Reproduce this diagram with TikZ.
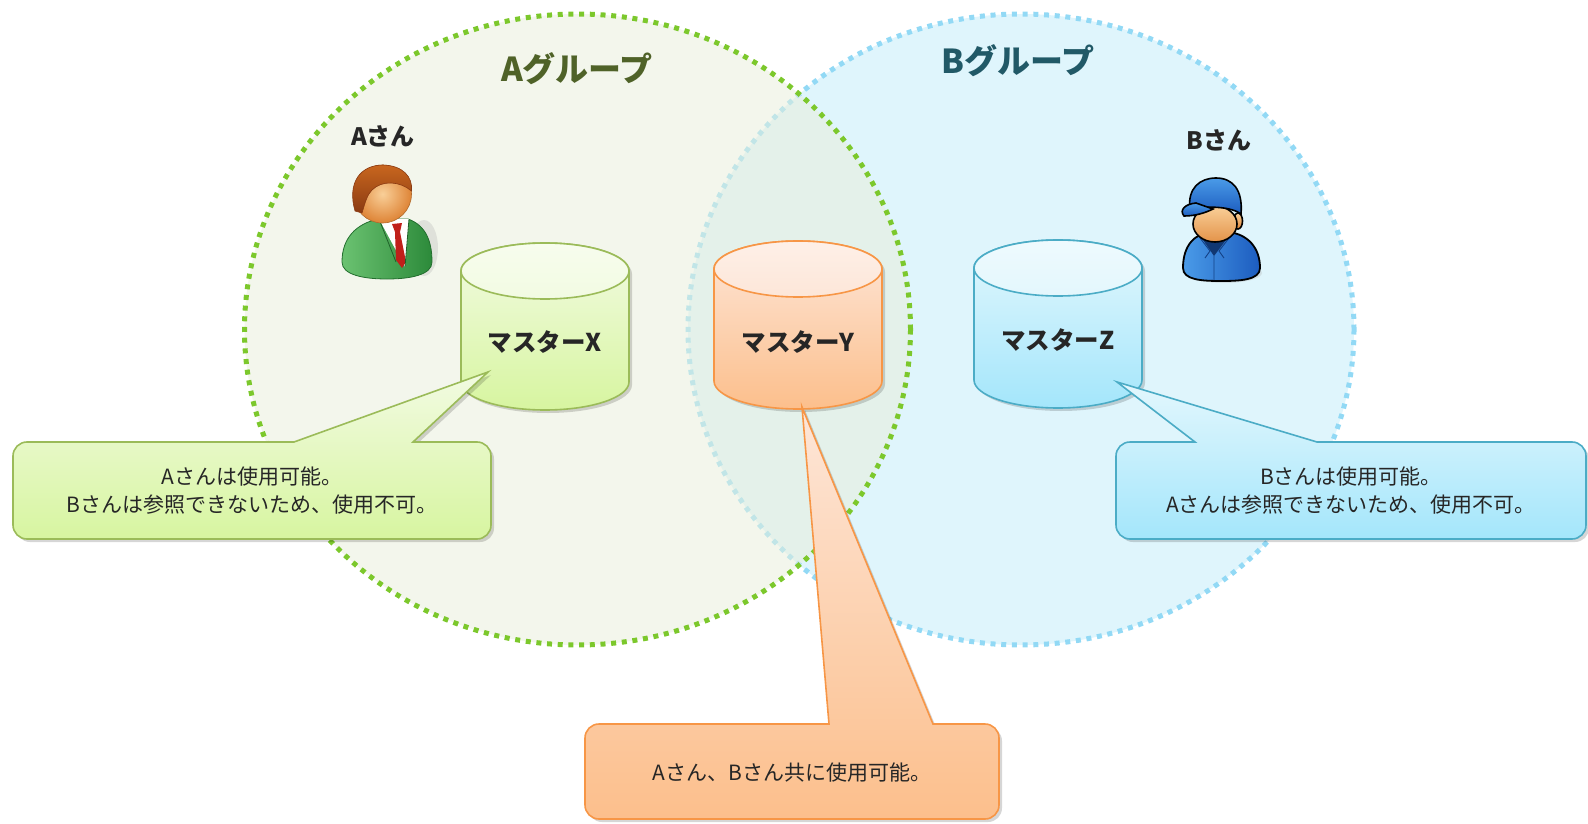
\documentclass[tikz,border=0pt]{standalone}
\usepackage{fontspec}
\setmainfont{Noto Sans CJK JP}
\usetikzlibrary{shadows}

\definecolor{txt}{HTML}{262626}
\definecolor{gfill}{RGB}{233,239,220}
\definecolor{gline}{HTML}{7CC82C}
\definecolor{bfill}{HTML}{DFF5FC}
\definecolor{bline}{HTML}{92D9F5}
\definecolor{gtitle}{HTML}{4F6228}
\definecolor{btitle}{HTML}{215967}
% database / callout colours
\definecolor{xline}{HTML}{9BBB59}
\definecolor{xtop}{HTML}{F2FBE2}
\definecolor{xbot}{HTML}{D7F5A0}
\definecolor{yline}{HTML}{F79646}
\definecolor{ytop}{HTML}{FDE6D8}
\definecolor{ybot}{HTML}{FCBF8C}
\definecolor{zline}{HTML}{4BACC6}
\definecolor{ztop}{HTML}{E3F7FD}
\definecolor{zbot}{HTML}{A4E6FB}
% figures
\definecolor{suitL}{HTML}{6BC271}
\definecolor{suitD}{HTML}{2C8A3A}
\definecolor{skinL}{HTML}{F9CF98}
\definecolor{skinD}{HTML}{DE8436}
\definecolor{hairL}{HTML}{C8661E}
\definecolor{hairD}{HTML}{8A3A12}
\definecolor{tie}{HTML}{C0201A}
\definecolor{uniL}{HTML}{4A9BE8}
\definecolor{uniD}{HTML}{1C5CBF}

\tikzset{
  grouparea/.style={line width=5pt, dash pattern=on 5pt off 5.7pt},
  grouptitle/.style={font=\bfseries\fontsize{33}{36}\selectfont},
  person/.style={font=\bfseries\fontsize{24}{28}\selectfont, text=txt},
  dblabel/.style={font=\bfseries\fontsize{24.5}{28}\selectfont, text=txt},
  note/.style={align=center, font=\fontsize{21}{28}\selectfont, text=txt},
  softshadow/.style={drop shadow={opacity=0.16, shadow xshift=3pt, shadow yshift=-3pt, fill=black}},
  callout/.style={line width=1.6pt, softshadow},
}

% database cylinder: #1 centre x, #2 top ellipse y, #3 bottom ellipse y,
% #4 line colour, #5 light colour, #6 dark colour
\newcommand\drawdb[6]{%
  \path[draw=#4, line width=1.6pt, top color=#5, bottom color=#6, softshadow]
    (#1-84,#2) -- (#1-84,#3)
    arc[start angle=180, end angle=0, x radius=84, y radius=28]
    -- (#1+84,#2)
    arc[start angle=0, end angle=-180, x radius=84, y radius=28] -- cycle;
  \path[draw=#4, line width=1.6pt, top color=#5!60!white, bottom color=#5]
    (#1,#2) ellipse[x radius=84, y radius=28];
}

\begin{document}
\begin{tikzpicture}[x=1pt,y=-1pt]
\path[use as bounding box] (0,0) rectangle (1588,824);

% group areas
\path[grouparea, fill=bfill, draw=bline] (1021,329.5) ellipse[x radius=333, y radius=315.5];
\path[grouparea, fill=gfill, fill opacity=0.55, draw=gline] (577.5,329.5) ellipse[x radius=333, y radius=315.5];

\node[grouptitle, text=gtitle] (titleA) at (577,69) {Aグループ};
\node[grouptitle, text=btitle] (titleB) at (1018,61) {Bグループ};

\node[person] (nameA) at (383,136) {Aさん};
\node[person] (nameB) at (1219,140) {Bさん};

% person A: businessman
\fill[black!30, opacity=0.3] (424,248) ellipse[x radius=14, y radius=28];
\path[draw=suitD!80!black, line width=0.8pt, left color=suitL, right color=suitD]
  (342,262) .. controls (342,238) and (356,224) .. (378,219) -- (408,219)
  .. controls (425,225) and (432,240) .. (432,262)
  .. controls (432,275) and (410,279) .. (387,279)
  .. controls (364,279) and (342,275) .. (342,262) -- cycle;
\fill[white] (379,219) -- (409,219) -- (405,267) -- cycle;
\fill[tie] (392,224) -- (402,223) -- (400,232) -- (406,262) -- (402,268) -- (396,260) -- (395,232) -- cycle;
\draw[suitD!70!black, line width=0.8pt] (379,219) -- (396,262) (409,219) -- (405,267);
\path[draw=skinD!80!black, line width=0.6pt, inner color=skinL, outer color=skinD]
  (382.5,194) circle[radius=29];
\path[draw=hairD, line width=0.6pt, top color=hairL, bottom color=hairD]
  (355,211) .. controls (347,183) and (360,165) .. (383,165)
  .. controls (403,165.5) and (413,177) .. (411.5,191)
  .. controls (400,181) and (382,180) .. (372,190)
  .. controls (367,195) and (365,203) .. (362,213) -- cycle;

% person B: worker in cap
\fill[black!30, opacity=0.3] (1224,273) ellipse[x radius=38, y radius=10];
\path[draw=black, line width=1.8pt, left color=uniL, right color=uniD]
  (1183,268) .. controls (1183,245) and (1195,233) .. (1212,232) -- (1228,232)
  .. controls (1248,234) and (1260,248) .. (1260,268)
  .. controls (1260,280) and (1240,281) .. (1221,281)
  .. controls (1202,281) and (1183,280) .. (1183,268) -- cycle;
\fill[uniD!60!black] (1203,240) -- (1226,240) -- (1214,256) -- cycle;
\draw[uniD!70!black, line width=0.9pt] (1200,238) -- (1210,251) -- (1205,258) (1229,238) -- (1219,251) -- (1224,258) (1214,256) -- (1214,280);
\path[draw=black, line width=1.6pt, top color=skinL, bottom color=skinD]
  (1238,221) ellipse[x radius=4.5, y radius=8];
\path[draw=black, line width=1.6pt, top color=skinL, bottom color=skinD!80!skinL]
  (1215,224) ellipse[x radius=22, y radius=18];
\path[draw=black, line width=1.6pt, top color=uniL, bottom color=uniD]
  (1190,210) .. controls (1187,188) and (1200,178) .. (1216,178)
  .. controls (1233,178) and (1243,190) .. (1241,214)
  .. controls (1232,207) and (1208,205) .. (1190,210) -- cycle;
\path[draw=black, line width=1.6pt, top color=uniL, bottom color=uniD]
  (1196,203) .. controls (1185,204) and (1179,210) .. (1184,216)
  .. controls (1195,216) and (1205,213) .. (1213,209) -- cycle;

% databases
\drawdb{545}{271}{382}{xline}{xtop}{xbot}
\drawdb{798}{269}{381}{yline}{ytop}{ybot}
\drawdb{1058}{268}{380}{zline}{ztop}{zbot}
\node[dblabel] (masterX) at (545,342) {マスターX};
\node[dblabel] (masterY) at (798,342) {マスターY};
\node[dblabel] (masterZ) at (1058,340) {マスターZ};

% callouts: rounded box corners, sharp pointer corners
\path[callout, draw=xline, top color=xtop, bottom color=xbot]
  (13,490) [rounded corners=14] -- (13,442) [sharp corners] -- (294,442)
  -- (488,372) -- (413,442) [rounded corners=14]
  -- (491,442) -- (491,539) -- (13,539) -- cycle;
\node[note] (noteX) at (252,491) {Aさんは使用可能。\\Bさんは参照できないため、使用不可。};

\path[callout, draw=zline, top color=ztop, bottom color=zbot]
  (1116,490) [rounded corners=14] -- (1116,442) [sharp corners] -- (1195,442)
  -- (1117,382) -- (1317,442) [rounded corners=14]
  -- (1586,442) -- (1586,539) -- (1116,539) -- cycle;
\node[note] (noteZ) at (1351,491) {Bさんは使用可能。\\Aさんは参照できないため、使用不可。};

\path[callout, draw=yline, top color=ytop, bottom color=ybot]
  (585,772) [rounded corners=14] -- (585,724) [sharp corners] -- (829,724)
  -- (802,407) -- (933,724) [rounded corners=14]
  -- (999,724) -- (999,819) -- (585,819) -- cycle;
\node[note] (noteY) at (792,773) {Aさん、Bさん共に使用可能。};
\end{tikzpicture}
\end{document}
